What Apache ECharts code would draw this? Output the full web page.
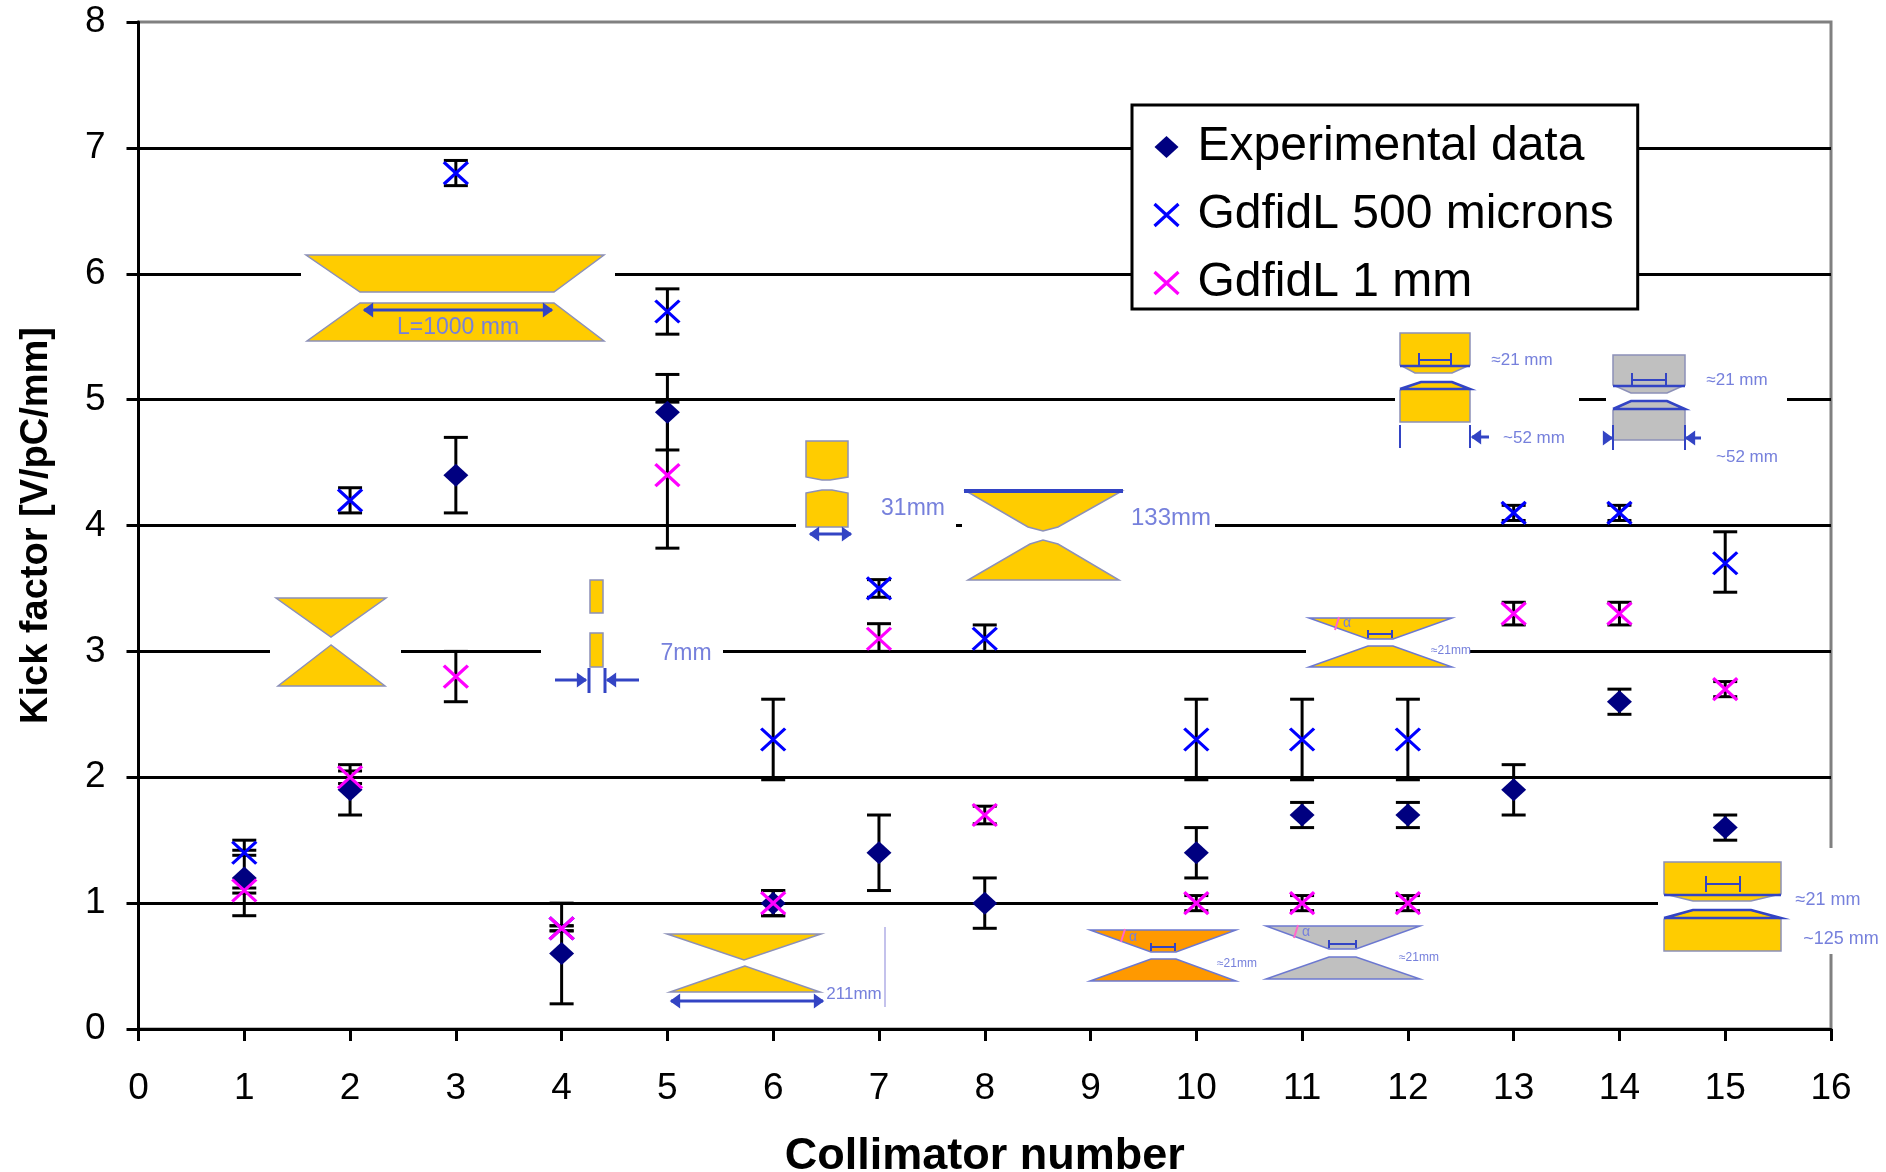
<!DOCTYPE html>
<html>
<head>
<meta charset="utf-8">
<style>html,body{margin:0;padding:0;background:#fff}#c{width:1886px;height:1172px}</style>
<script src="https://cdn.jsdelivr.net/npm/echarts@6/dist/echarts.min.js"></script>
</head>
<body>
<div id="c"></div>
<script>
const xTicks = [0,1,2,3,4,5,6,7,8,9,10,11,12,13,14,15,16];
const yTicks = [0,1,2,3,4,5,6,7,8];
const collimators = [1,2,3,4,5,6,7,8,10,11,12,13,14,15];

const experimental = [1.2,1.9,4.4,0.6,4.9,1.0,1.4,1.0,1.4,1.7,1.7,1.9,2.6,1.6];
const experimentalLow = [0.9,1.7,4.1,0.2,4.6,0.9,1.1,0.8,1.2,1.6,1.6,1.7,2.5,1.5];
const experimentalHigh = [1.5,2.1,4.7,1.0,5.2,1.1,1.7,1.2,1.6,1.8,1.8,2.1,2.7,1.7];

const gdfidl500 = [1.4,4.2,6.8,0.8,5.7,2.3,3.5,3.1,2.3,2.3,2.3,4.1,4.1,3.7];
const gdfidl500Low = [1.38,4.1,6.7,0.78,5.52,1.98,3.43,3.0,1.98,1.98,1.98,4.04,4.04,3.47];
const gdfidl500High = [1.42,4.3,6.9,0.82,5.88,2.62,3.57,3.21,2.62,2.62,2.62,4.16,4.16,3.95];

const gdfidl1mm = [1.1,2.0,2.8,0.8,4.4,1.0,3.1,1.7,1.0,1.0,1.0,3.3,3.3,2.7];
const gdfidl1mmLow = [1.08,1.95,2.6,0.78,3.82,0.9,3.0,1.63,0.94,0.94,0.94,3.21,3.21,2.64];
const gdfidl1mmHigh = [1.12,2.05,3.0,0.82,4.98,1.1,3.22,1.77,1.06,1.06,1.06,3.39,3.39,2.76];

const seriesNames = ['Experimental data','GdfidL 500 microns','GdfidL 1 mm'];
const xTitle = 'Collimator number';
const yTitle = 'Kick factor [V/pC/mm]';

const FONT = '"Liberation Sans", Arial, sans-serif';
const CROSS = 'path://M0 0L24 22M24 0L0 22';
const NAVY = '#000080', BLUE = '#0000ff', MAGENTA = '#ff00ff';
const GOLD = '#ffcc00', ORANGE = '#ff9900', GREY = '#c0c0c0';
const EDGE = '#8c90b8', DIM = '#3344c4', LABEL = '#7680dc';

function white(x, y, w, h) {
  return {type:'rect', z:1, shape:{x,y,width:w,height:h}, style:{fill:'#fff'}, silent:true};
}
function poly(points, fill, stroke) {
  return {type:'polygon', z:1, shape:{points}, style:{fill:fill||GOLD, stroke:stroke||EDGE, lineWidth:1.5}, silent:true};
}
function seg(x1,y1,x2,y2,color,w) {
  return {type:'line', z:1, shape:{x1,y1,x2,y2}, style:{stroke:color||DIM, lineWidth:w||2.5}, silent:true};
}
function trace(points,color,w) {
  return {type:'polyline', z:1, shape:{points}, style:{stroke:color||DIM, lineWidth:w||2.5, fill:null}, silent:true};
}
function label(text,x,y,size,color) {
  return {type:'text', z:1, x, y, style:{text, fontFamily:FONT, fontSize:size, fill:color||LABEL, align:'center', verticalAlign:'middle'}, silent:true};
}
function arrow(x1,x2,y,both) {
  const h = 6, out = [seg(x1,y,x2,y,DIM,3)];
  const d = x2 > x1 ? 1 : -1;
  out.push(poly([[x2,y],[x2-d*h*1.4,y-h],[x2-d*h*1.4,y+h]],DIM,DIM));
  if (both) out.push(poly([[x1,y],[x1+d*h*1.4,y-h],[x1+d*h*1.4,y+h]],DIM,DIM));
  return out;
}
function dim(x1,x2,y,h) {
  return [seg(x1,y,x2,y,DIM,2), seg(x1,y-h,x1,y+h,DIM,2), seg(x2,y-h,x2,y+h,DIM,2)];
}
const pictograms = [].concat(
  // masks that interrupt the gridlines
  white(301,248,314,98), white(270,590,131,105), white(541,575,182,125),
  white(796,438,160,100), white(962,485,253,100),
  white(1395,330,184,120), white(1606,350,181,112),
  white(1306,615,164,56), white(1658,848,228,106),
  // L = 1000 mm
  poly([[306,255],[604,255],[554,292],[360,292]]),
  poly([[360,303],[554,303],[604,341],[307,341]]),
  arrow(364,552,310,true),
  label('L=1000 mm',458,328,23),
  // collimator 1.5-2.5 triangles
  poly([[276,598],[386,598],[331,637]]),
  poly([[331,645],[278,686],[385,686]]),
  // 7 mm
  poly([[590,580],[603,580],[603,613],[590,613]]),
  poly([[590,633],[603,633],[603,667],[590,667]]),
  arrow(555,586,680), arrow(639,607,680),
  seg(589,668,589,693,DIM,3), seg(605,668,605,693,DIM,3),
  label('7mm',686,654,23),
  // 211 mm
  poly([[667,934],[821,934],[744,960]]),
  poly([[745,966],[670,992],[820,992]]),
  arrow(671,823,1001,true),
  label('211mm',854,994,17),
  seg(885,927,885,1007,'#b0aee6',1.5),
  // 31 mm
  poly([[806,441],[848,441],[848,477],[830,480],[822,480],[806,477]]),
  poly([[806,493],[822,490],[832,490],[848,493],[848,527],[806,527]]),
  arrow(810,851,534,true),
  label('31mm',913,509,23),
  // 133 mm
  poly([[966,491],[1122,491],[1058,527],[1043,531],[1028,527]]),
  seg(964,491,1123,491,DIM,4),
  poly([[1030,544],[1043,540],[1058,544],[1119,580],[968,580]]),
  label('133mm',1171,518,24),
  // collimator 13 rectangular yellow
  poly([[1400,333],[1470,333],[1470,365],[1452,373],[1415,373],[1400,365]]),
  poly([[1421,382],[1452,382],[1470,390],[1470,422],[1400,422],[1400,390]]),
  trace([[1400,366],[1470,366]]), trace([[1400,389],[1421,382],[1452,382],[1470,389],[1400,389]]),
  dim(1419,1451,360,7),
  seg(1400,425,1400,448,DIM,2), seg(1470,425,1470,448,DIM,2),
  arrow(1489,1472,437),
  label('≈21 mm',1522,360,17), label('~52 mm',1534,438,17),
  // collimator 14 rectangular grey
  poly([[1613,355],[1685,355],[1685,385],[1667,393],[1631,393],[1613,385]],GREY),
  poly([[1631,401],[1667,401],[1685,410],[1685,440],[1613,440],[1613,410]],GREY),
  trace([[1613,386],[1685,386]]), trace([[1613,409],[1631,401],[1667,401],[1685,409],[1613,409]]),
  dim(1632,1666,380,7),
  seg(1613,425,1613,450,DIM,2), seg(1685,425,1685,450,DIM,2),
  arrow(1701,1686,438), arrow(1606,1612,438),
  label('≈21 mm',1737,380,17), label('~52 mm',1747,457,17),
  // angled yellow
  poly([[1309,618],[1452,618],[1393,639],[1368,639]],GOLD,'#6c78d0'),
  poly([[1368,646],[1393,646],[1452,667],[1309,667]],GOLD,'#6c78d0'),
  dim(1368,1392,634,4),
  trace([[1339,617],[1335,630]],'#ff66cc',2),
  label('α',1347,623,14),
  label('≈21mm',1451,651,12),
  // angled orange
  poly([[1090,930],[1236,930],[1176,952],[1151,952]],ORANGE,'#6c78d0'),
  poly([[1151,959],[1176,959],[1236,981],[1090,981]],ORANGE,'#6c78d0'),
  dim(1151,1175,947,4),
  trace([[1125,929],[1121,942]],'#ff66cc',2),
  label('α',1133,937,14),
  label('≈21mm',1237,964,12),
  // angled grey
  poly([[1266,926],[1420,926],[1356,949],[1329,949]],GREY,'#6c78d0'),
  poly([[1329,957],[1356,957],[1420,979],[1266,979]],GREY,'#6c78d0'),
  dim(1329,1356,944,4),
  trace([[1298,925],[1294,938]],'#ff66cc',2),
  label('α',1306,932,14),
  label('≈21mm',1419,958,12),
  // collimator 15
  poly([[1664,862],[1781,862],[1781,894],[1751,901],[1693,901],[1664,894]]),
  poly([[1693,910],[1751,910],[1781,919],[1781,951],[1664,951],[1664,919]]),
  trace([[1664,895],[1781,895]]), trace([[1664,918],[1693,910],[1751,910],[1781,918],[1664,918]]),
  dim(1706,1740,884,8),
  label('≈21 mm',1828,900,18), label('~125 mm',1841,939,18)
);

function errorSeries(low, high) {
  return {
    type:'custom', z:2, silent:true, clip:false, legendHoverLink:false,
    data: collimators.map((x,i)=>[x,low[i],high[i]]),
    encode:{x:0,y:[1,2]},
    renderItem(params, api) {
      const a = api.coord([api.value(0), api.value(1)]);
      const b = api.coord([api.value(0), api.value(2)]);
      const st = {stroke:'#000', lineWidth:3, fill:null};
      const cap = 12;
      return {type:'group', children:[
        {type:'line', shape:{x1:a[0],y1:a[1],x2:b[0],y2:b[1]}, style:st},
        {type:'line', shape:{x1:a[0]-cap,y1:a[1],x2:a[0]+cap,y2:a[1]}, style:st},
        {type:'line', shape:{x1:b[0]-cap,y1:b[1],x2:b[0]+cap,y2:b[1]}, style:st}
      ]};
    }
  };
}
function crossSeries(name, values, color, z) {
  return {
    name, type:'scatter', z, symbol:CROSS, symbolSize:[24,22], clip:false,
    itemStyle:{color:'none', borderColor:color, borderWidth:3.2, opacity:1},
    data: collimators.map((x,i)=>[x,values[i]])
  };
}

const chart = echarts.init(document.getElementById('c'), null, {renderer:'canvas'});
chart.setOption({
  animation:false,
  backgroundColor:'#fff',
  grid:{left:138.5, right:55, top:22, bottom:143, show:true, borderColor:'#808080', borderWidth:3, backgroundColor:'transparent', containLabel:false, outerBoundsMode:'none'},
  xAxis:{
    type:'value', min:xTicks[0], max:xTicks[xTicks.length-1], interval:1,
    name:xTitle, nameLocation:'middle', nameGap:105,
    nameTextStyle:{fontFamily:FONT, fontWeight:'bold', fontSize:45, color:'#000'},
    axisLine:{show:true, onZero:false, lineStyle:{color:'#000', width:3}},
    axisTick:{show:true, inside:false, length:12, lineStyle:{color:'#000', width:3}},
    axisLabel:{margin:41, fontFamily:FONT, fontSize:37, color:'#000', showMinLabel:true, showMaxLabel:true},
    splitLine:{show:false}
  },
  yAxis:{
    type:'value', min:yTicks[0], max:yTicks[yTicks.length-1], interval:1,
    name:yTitle, nameLocation:'middle', nameGap:83, nameRotate:90,
    nameTextStyle:{fontFamily:FONT, fontWeight:'bold', fontSize:38, color:'#000'},
    axisLine:{show:true, onZero:false, lineStyle:{color:'#000', width:3}},
    axisTick:{show:true, length:12, lineStyle:{color:'#000', width:3}},
    axisLabel:{margin:33, fontFamily:FONT, fontSize:37, color:'#000', padding:[4,0,0,0]},
    splitLine:{show:true, showMinLine:false, showMaxLine:false, lineStyle:{color:'#000', width:3}}
  },
  legend:{
    show:true, orient:'vertical', left:1132, top:105, selectedMode:false, z:10,
    backgroundColor:'#fff', borderColor:'#000', borderWidth:3, borderRadius:0,
    padding:[16,24,0,20], itemGap:16, itemWidth:24, itemHeight:22, itemStyle:{},
    textStyle:{fontFamily:FONT, fontSize:48, color:'#000', padding:[0,0,0,14], lineHeight:52},
    data:[
      {name:seriesNames[0], icon:'diamond', itemStyle:{color:NAVY, borderWidth:0}},
      {name:seriesNames[1], icon:CROSS, itemStyle:{color:'none', borderColor:BLUE, borderWidth:3.2}},
      {name:seriesNames[2], icon:CROSS, itemStyle:{color:'none', borderColor:MAGENTA, borderWidth:3.2}}
    ]
  },
  graphic:{elements:pictograms},
  series:[
    errorSeries(experimentalLow, experimentalHigh),
    errorSeries(gdfidl500Low, gdfidl500High),
    errorSeries(gdfidl1mmLow, gdfidl1mmHigh),
    {name:seriesNames[0], type:'scatter', z:3, symbol:'diamond', symbolSize:[25,23], clip:false,
     itemStyle:{color:NAVY, opacity:1}, data:collimators.map((x,i)=>[x,experimental[i]])},
    crossSeries(seriesNames[1], gdfidl500, BLUE, 4),
    crossSeries(seriesNames[2], gdfidl1mm, MAGENTA, 5)
  ]
});
</script>
</body>
</html>
